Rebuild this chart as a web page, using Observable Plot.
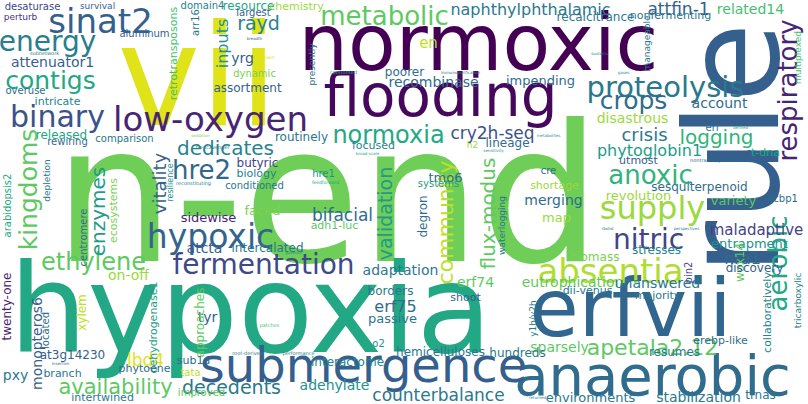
<!DOCTYPE html>
<html>
<head>
<meta charset="utf-8">
<script src="https://cdn.jsdelivr.net/npm/d3@7"></script>
<script src="https://cdn.jsdelivr.net/npm/@observablehq/plot@0.6"></script>
<style>
  body { margin: 0; background: white; }
</style>
</head>
<body>
<div id="cloud"></div>
<script>
// word cloud: word, placement (x, y in picture px), font size, rotation, colour tone (0..1 on viridis)
const words = ["n-end","hypoxia","vii","normoxic","rule","flooding","erfvii","anaerobic","submergence","absentia",
  "proteolysis","hypoxic","supply","nitric","anoxic","low-oxygen","binary","sinat2","energy","contigs",
  "metabolic","fermentation","ethylene","respiratory","kingdoms","aerobic","community","flux-modus","crops","normoxia",
  "dedicates","availability","decedents","hre2","validation","vitality","enzymes","apetala2.12","logging","crisis",
  "phytoglobin1","cry2h-seq","naphthylphthalamic","attfin-1","related14","erf75","lbd4","hra1","maladaptive","counterbalance",
  "bifacial","recombinase","impending","disastrous","eutrophication","unanswered","stabilization","adenylate","erf74","adaptation",
  "monopteros6","attenuator1","rayd","inputs","retrotransposons","tmo6","merging","map","revolution","variety",
  "entrapment","snf","account","sparsely","wox14","tyr","on-off","atcta","faced","sidewise",
  "passive","borders","twenty-one","xylem","approaches","dehydrogenase1","en","poorer","trnas","environments",
  "hundreds","resumes","erebp-like","collaboratively","tricarboxylic","dii-venus","majority","shoot","discovery","stresses",
  "biomass","pin2","y1h/y2h","hemicelluloses","interactome","at3g14230","phytoene","sub1a","tata","pxy",
  "branch","intertwined","improved","o2","located","centromere","ecosystems","arabidopsis2","depletion","resilience",
  "butyric","biology","conditioned","hre1","adh1-luc","intercalated","released","rewiring","comparison","routinely",
  "focused","lineage","h2","cre","systems","sesquiterpenoid","acbp1","utmost","t-dna","shortage",
  "degron","waterlogging","recalcitrance","nonfermenting","manageable","multiplexed","erf","desaturase","survival","perturb",
  "domain4","resource","chemistry","largest","arr16","aluminum","yrg","dynamic","assortment","presently",
  "overuse","intricate","explain","subnetwork","breadth","confronted","oxidation","no-scavenger","broad-scale","reconstituting",
  "feedforward","gaseous","performance","root-derived","patches","insertion","metabolites","sensitivity","nontranscription-mediated","rbohd",
  "perspectives","returned","sustains","immunopurification","gases","defined"];
const xs = [327,250,197,478,736,440,630,652,363,610,
  665,210,652,648,650,210,57,100,47,50,
  384,263,93,788,28,778,445,488,633,388,
  225,115,231,201,385,160,98,652,716,644,
  649,492,530,678,750,395,145,742,756,438,
  342,433,540,632,572,657,698,334,475,400,
  37,52,258,222,173,445,553,556,638,733,
  749,740,719,559,740,207,128,204,262,208,
  392,390,7,82,200,153,428,404,760,590,
  517,674,720,767,798,587,657,465,754,656,
  594,688,533,440,347,72,144,193,190,15,
  62,102,201,378,45,83,113,7,47,170,
  257,256,254,323,334,267,61,67,124,301,
  373,507,472,548,438,699,782,638,765,554,
  423,502,595,670,647,798,712,32,97,20,
  202,248,296,253,195,144,242,254,247,312,
  25,57,265,44,254,343,200,212,367,193,
  325,293,298,247,269,60,548,493,723,607,
  686,537,599,460,623,740];
const ys = [200,312,80,45,148,97,310,377,366,272,
  87,237,208,240,175,120,117,22,42,80,
  16,265,262,90,189,263,222,213,100,135,
  148,387,387,170,213,183,211,347,137,135,
  150,133,9,9,9,306,360,258,230,395,
  215,82,80,118,282,283,397,385,282,270,
  343,62,23,43,53,177,200,217,195,200,
  243,155,103,347,262,317,275,248,210,217,
  318,291,306,312,322,327,43,72,395,397,
  353,352,340,312,300,290,295,297,268,250,
  257,272,318,352,362,355,368,360,372,375,
  373,397,392,343,330,237,210,205,180,182,
  163,173,185,173,225,248,135,141,138,137,
  145,143,145,170,183,187,198,160,152,185,
  216,225,17,15,43,57,127,6,6,17,
  5,6,6,12,22,33,58,73,88,64,
  90,101,57,53,38,72,135,147,153,183,
  182,252,353,353,325,363,135,150,160,228,
  228,397,53,72,72,127];
const sizes = [190,123,140,78,130,58,80,56,48,34,
  29,33,32,28,26,34,30,34,28,25,
  26,28,24,26,25,26,22,20,25,24,
  20,21,19,26,19,18,20,22,20,18,
  16,17,16,17,14,16,17,16,15,17,
  17,14,13,14,14,14,14,14,14,14,
  14,14,19,16,11,13,14,13,13,13,
  13,13,14,14,12,14,14,14,13,13,
  13,12,12,12,12,11,15,12,12,13,
  12,12,11,11,9,11,11,11,12,12,
  12,10,9,12,12,12,11,11,10,14,
  11,11,10,10,10,10,11,10,9,8,
  12,11,10,10,11,12,12,10,10,12,
  11,12,9,10,10,12,10,11,11,11,
  12,9,12,11,9,9,10,10,9,9,
  10,12,11,10,10,10,14,10,12,9,
  10,11,5,5,4,5,4,5,4,5,
  4.5,4,5,5,5,4,4,4,5,4,
  4,4,4,4,4,4];
const vertical = ["rule","respiratory","kingdoms","aerobic","community","flux-modus","validation","vitality","enzymes",
  "monopteros6","inputs","retrotransposons","wox14","twenty-one","xylem","approaches","dehydrogenase1",
  "collaboratively","tricarboxylic","pin2","y1h/y2h","located","centromere","ecosystems","arabidopsis2",
  "depletion","resilience","degron","waterlogging","manageable","multiplexed","arr16","presently"];
const tones = [.78,.6,.95,0,.3,.02,.33,.35,.3,.88,
  .4,.32,.85,.2,.65,.1,.25,.3,.42,.6,
  .75,.22,.75,.1,.75,.6,.9,.75,.35,.6,
  .45,.75,.4,.33,.55,.3,.55,.75,.65,.4,
  .55,.25,.4,.3,.7,.35,.95,.35,.2,.4,
  .35,.35,.35,.85,.75,.4,.4,.5,.75,.4,
  .3,.3,.45,.5,.7,.35,.35,.85,.85,.75,
  .5,.3,.35,.75,.75,.3,.85,.3,.8,.1,
  .4,.4,.1,.9,.75,.55,.9,.35,.4,.4,
  .4,.4,.35,.45,.45,.4,.4,.3,.3,.45,
  .8,.2,.4,.4,.45,.3,.35,.35,.9,.4,
  .4,.4,.75,.5,.35,.35,.8,.6,.4,.5,
  .2,.45,.4,.5,.75,.4,.6,.35,.4,.4,
  .45,.35,.85,.35,.55,.35,.35,.3,.6,.85,
  .35,.4,.4,.4,.4,.7,.35,.2,.3,.15,
  .45,.6,.85,.3,.4,.3,.3,.8,.3,.35,
  .35,.45,.95,.4,.3,.6,.8,.4,.6,.45,
  .6,.5,.45,.4,.7,.35,.5,.5,.35,.4,
  .4,.45,.4,.4,.5,.6];

const rows = words.map((w, i) => ({
  word: w, x: xs[i], y: ys[i], size: sizes[i],
  rotate: vertical.includes(w) ? -90 : 0, tone: tones[i]
}));

const chart = Plot.plot({
  width: 808,
  height: 404,
  margin: 0,
  style: {background: "white", fontFamily: "'DejaVu Sans', sans-serif", overflow: "visible"},
  x: {domain: [0, 808], axis: null},
  y: {domain: [404, 0], axis: null},
  color: {type: "linear", scheme: "viridis", domain: [0, 1]},
  marks: [
    Plot.text(rows, {
      x: "x", y: "y", text: "word",
      fontSize: "size", rotate: "rotate", fill: "tone",
      textAnchor: "middle", lineAnchor: "middle"
    })
  ]
});

d3.select("#cloud").append(() => chart);
</script>
</body>
</html>
